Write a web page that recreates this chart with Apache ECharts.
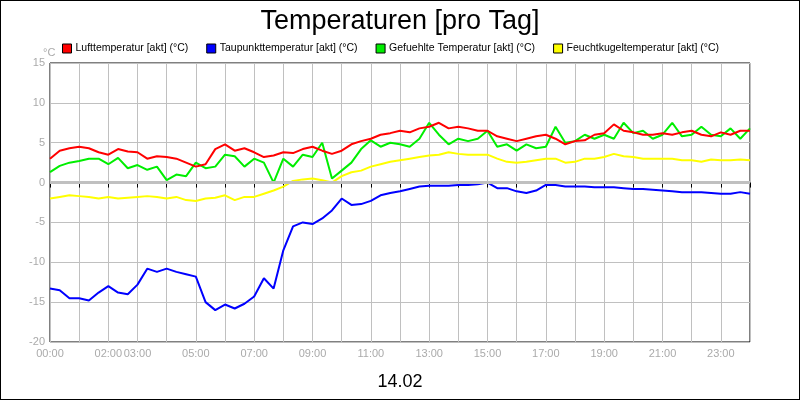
<!DOCTYPE html>
<html>
<head>
<meta charset="utf-8">
<script src="https://cdn.jsdelivr.net/npm/echarts@6/dist/echarts.min.js"></script>
<style>
html, body { margin: 0; padding: 0; }
#chart { width: 798px; height: 398px; border: 1px solid #000; }
</style>
</head>
<body>
<div id="chart"></div>
<script>
// one sample every 20 minutes, 00:00 .. 24:00
const luft = [3.0, 4.0, 4.3, 4.5, 4.3, 3.8, 3.5, 4.2, 3.9, 3.8, 3.0, 3.3, 3.2, 3.0, 2.5, 2.0, 2.3, 4.2, 4.8, 4.0, 4.3, 3.8, 3.2, 3.4, 3.8, 3.7, 4.2, 4.5, 4.0, 3.6, 4.0, 4.8, 5.2, 5.5, 6.0, 6.2, 6.5, 6.3, 6.8, 7.0, 7.5, 6.8, 7.0, 6.8, 6.5, 6.5, 5.8, 5.5, 5.2, 5.5, 5.8, 6.0, 5.5, 4.8, 5.2, 5.3, 6.0, 6.2, 7.3, 6.5, 6.3, 6.0, 6.0, 6.2, 6.0, 6.3, 6.5, 6.0, 5.8, 6.3, 6.0, 6.5, 6.5];
const taupunkt = [-13.3, -13.5, -14.5, -14.5, -14.8, -13.8, -13.0, -13.8, -14.0, -12.8, -10.8, -11.2, -10.8, -11.2, -11.5, -11.8, -15.0, -16.0, -15.3, -15.8, -15.2, -14.3, -12.0, -13.3, -8.5, -5.5, -5.0, -5.2, -4.5, -3.5, -2.0, -2.8, -2.7, -2.3, -1.6, -1.3, -1.1, -0.8, -0.5, -0.4, -0.4, -0.4, -0.3, -0.3, -0.2, 0.0, -0.7, -0.7, -1.1, -1.3, -1.0, -0.3, -0.3, -0.5, -0.5, -0.5, -0.6, -0.6, -0.6, -0.7, -0.8, -0.8, -0.9, -1.0, -1.1, -1.2, -1.2, -1.2, -1.3, -1.4, -1.4, -1.2, -1.4];
const gefuehlt = [1.3, 2.1, 2.5, 2.7, 3.0, 3.0, 2.3, 3.1, 1.8, 2.2, 1.6, 2.0, 0.3, 1.0, 0.8, 2.5, 1.8, 2.0, 3.5, 3.3, 2.0, 3.0, 2.5, 0.0, 3.0, 2.0, 3.5, 3.2, 5.0, 0.5, 1.5, 2.5, 4.2, 5.3, 4.5, 5.0, 4.8, 4.5, 5.5, 7.5, 6.0, 4.8, 5.5, 5.2, 5.5, 6.5, 4.5, 4.8, 4.0, 4.8, 4.3, 4.5, 7.0, 5.0, 5.2, 6.0, 5.5, 6.0, 5.5, 7.5, 6.2, 6.5, 5.5, 6.0, 7.5, 5.8, 6.0, 7.0, 6.0, 5.8, 6.8, 5.5, 6.8];
const feuchtkugel = [-2.0, -1.8, -1.6, -1.7, -1.8, -2.0, -1.8, -2.0, -1.9, -1.8, -1.7, -1.8, -2.0, -1.8, -2.2, -2.3, -2.0, -1.9, -1.6, -2.2, -1.8, -1.8, -1.4, -1.0, -0.5, 0.2, 0.4, 0.5, 0.3, 0.0, 0.8, 1.3, 1.5, 2.0, 2.3, 2.6, 2.8, 3.0, 3.2, 3.4, 3.5, 3.8, 3.6, 3.5, 3.5, 3.5, 3.0, 2.6, 2.5, 2.6, 2.8, 3.0, 3.0, 2.5, 2.6, 3.0, 3.0, 3.2, 3.6, 3.3, 3.2, 3.0, 3.0, 3.0, 3.0, 2.8, 2.8, 2.6, 2.9, 2.8, 2.8, 2.9, 2.8];
const hour_labels = [0, 2, 3, 5, 7, 9, 11, 13, 15, 17, 19, 21, 23];

const pairs = values => values.map((v, i) => [i / 3, v]);
const make_series = (name, color, values) => ({
    name: name, type: 'line', data: pairs(values), showSymbol: false,
    lineStyle: { width: 2, color: color }, itemStyle: { color: color }
});

let chart = echarts.init(document.getElementById('chart'));
chart.setOption({
    animation: false,
    backgroundColor: '#fff',
    title: [
        { text: 'Temperaturen [pro Tag]', left: 'center', top: 2, textStyle: { fontFamily: 'Liberation Sans', fontSize: 27, fontWeight: 'normal', color: '#000' } },
        { text: '14.02', left: 'center', top: 367, textStyle: { fontFamily: 'Liberation Sans', fontSize: 18, fontWeight: 'normal', color: '#000' } },
        { text: '°C', left: 37, top: 41, textStyle: { fontFamily: 'Liberation Sans', fontSize: 11, fontWeight: 'normal', color: '#aaa' } }
    ],
    legend: {
        top: 37, left: 56, itemWidth: 9, itemHeight: 9, itemGap: 18, icon: 'rect',
        textStyle: { fontFamily: 'Liberation Sans', fontSize: 10.5, color: '#000', padding: [0, 0, 0, -1] },
        itemStyle: { borderColor: '#000', borderWidth: 1 }
    },
    grid: { left: 49, right: 49, top: 62, bottom: 57, show: true, borderColor: '#000', borderWidth: 1 },
    xAxis: {
        type: 'value', min: 0, max: 24, interval: 1,
        axisLine: { show: false },
        axisTick: { show: true, length: 5, lineStyle: { color: '#000' } },
        splitLine: { show: true, lineStyle: { color: '#c0c0c0' } },
        axisLabel: {
            color: '#aaa', fontFamily: 'Liberation Sans', fontSize: 11, margin: 6,
            formatter: v => hour_labels.includes(v) ? String(v).padStart(2, '0') + ':00' : ''
        }
    },
    yAxis: {
        type: 'value', min: -20, max: 15, interval: 5,
        axisLine: { show: false },
        axisTick: { show: false },
        splitLine: { show: true, lineStyle: { color: '#c0c0c0' } },
        axisLabel: { color: '#aaa', fontFamily: 'Liberation Sans', fontSize: 11, margin: 5 }
    },
    series: [
        Object.assign(make_series('Lufttemperatur [akt] (°C)', '#ff0000', luft), {
            markLine: { silent: true, symbol: 'none', label: { show: false }, lineStyle: { color: '#c0c0c0', width: 3, type: 'solid' }, data: [{ yAxis: 0 }] },
            z: 4
        }),
        make_series('Taupunkttemperatur [akt] (°C)', '#0000ff', taupunkt),
        make_series('Gefuehlte Temperatur [akt] (°C)', '#00ee00', gefuehlt),
        make_series('Feuchtkugeltemperatur [akt] (°C)', '#ffff00', feuchtkugel)
    ]
});
</script>
</body>
</html>
